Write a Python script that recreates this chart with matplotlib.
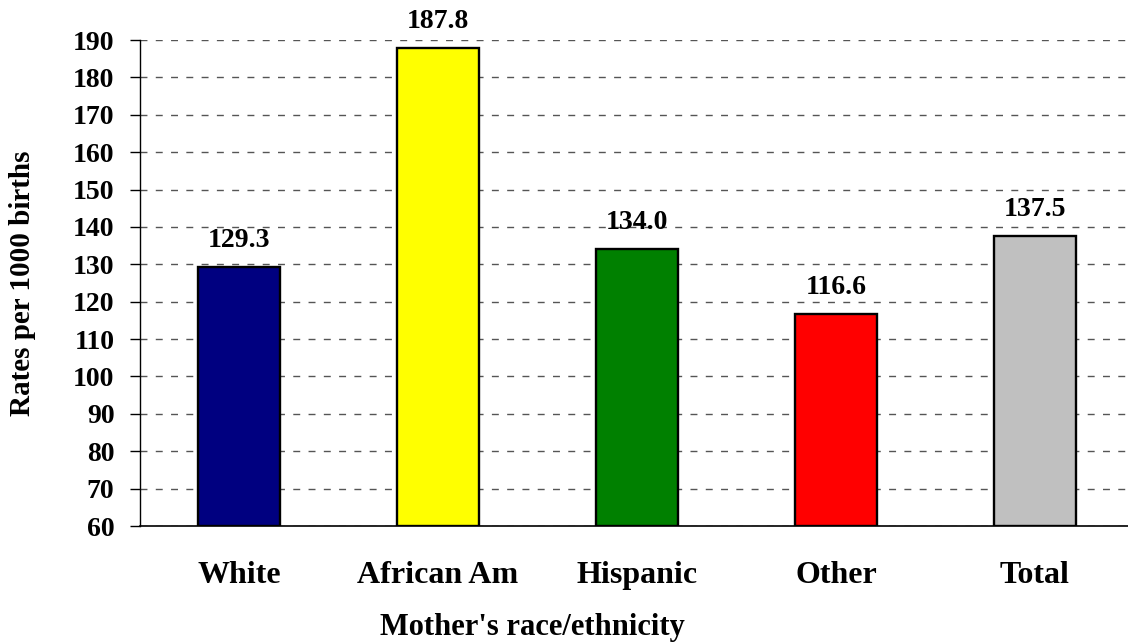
import matplotlib
matplotlib.use("Agg")
import matplotlib.pyplot as plt

categories = ["White", "African Am", "Hispanic", "Other", "Total"]
rates = [129.3, 187.8, 134.0, 116.6, 137.5]
bar_colors = ["#000080", "#FFFF00", "#008000", "#FF0000", "#C0C0C0"]
y_ticks = list(range(60, 191, 10))

plt.rcParams["font.family"] = ["Liberation Serif", "DejaVu Serif"]
plt.rcParams["font.weight"] = "bold"

W, H = 1128, 642
fig = plt.figure(figsize=(W / 100, H / 100), dpi=100)
# plot area: left spine at x=139.5 px, category spacing 199 px, spans past right edge
left, right, top, bottom = 139.5, 139.5 + 995, 40, 526
ax = fig.add_axes([left / W, 1 - bottom / H, (right - left) / W, (bottom - top) / H])

x = list(range(len(categories)))
ax.bar(x, [r - 60 for r in rates], bottom=60, width=0.417, color=bar_colors,
       edgecolor="black", linewidth=1.7, zorder=3)

for xi, r in zip(x, rates):
    ax.annotate(f"{r:.1f}", (xi, r), xytext=(0, 14.5), textcoords="offset points",
                ha="center", va="baseline", fontsize=20, fontweight="bold", zorder=4)

ax.set_xlim(-0.5, len(categories) - 0.5)
ax.set_ylim(60, 190)
ax.set_yticks(y_ticks)
ax.set_xticks(x)
ax.set_xticklabels(categories, fontsize=23, fontweight="bold")
ax.tick_params(axis="x", length=0, pad=25)
ax.tick_params(axis="y", direction="out", length=7, width=1, labelsize=20, pad=11)
for lab in ax.get_yticklabels():
    lab.set_fontweight("bold")

ax.yaxis.grid(True, linestyle=(0, (5, 6)), color="#555555", linewidth=1, zorder=0)
ax.set_axisbelow(True)
for s in ("top", "right"):
    ax.spines[s].set_visible(False)
ax.spines["left"].set_linewidth(1)
ax.spines["bottom"].set_linewidth(1.2)

ax.set_xlabel("Mother's race/ethnicity", fontsize=22, fontweight="bold")
ax.xaxis.set_label_coords((532 - left) / (right - left), -(627 - bottom) / (bottom - top))
ax.set_ylabel("Rates per 1000 births", fontsize=21, fontweight="bold")
ax.yaxis.set_label_coords(-(left - 23) / (right - left), 0.5)
ax.xaxis.label.set_va("center")
ax.yaxis.label.set_va("center")

fig.savefig("out.png", dpi=100)
